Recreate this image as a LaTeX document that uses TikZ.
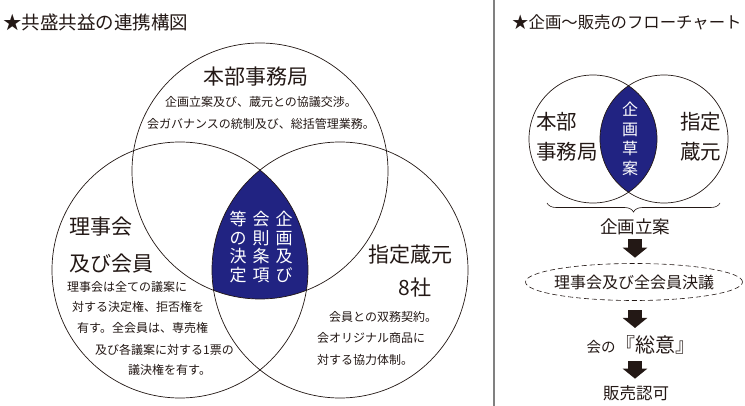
\documentclass[tikz,border=0pt]{standalone}
\usepackage{fontspec}
\setmainfont{Noto Sans CJK JP}
\usetikzlibrary{arrows.meta,shapes.geometric,decorations.pathreplacing}
\definecolor{navy}{RGB}{33,35,130}
\definecolor{ink}{RGB}{35,24,21}
\newcommand{\fsz}[2]{\fontsize{#1}{#2}\selectfont}
\begin{document}
\begin{tikzpicture}[x=1pt,y=-1pt,
  ring/.style={draw=ink,line width=0.7pt,circle,inner sep=0,minimum size=256pt},
  smallring/.style={ring,minimum size=128pt},
  title/.style={text=ink,inner sep=0,anchor=west,font=\fsz{18.5}{20}},
  big/.style={text=ink,inner sep=0,font=\fsz{21}{24}},
  small/.style={text=ink,inner sep=0,anchor=west,font=\fsz{12}{22}},
  vcol/.style={text=white,inner sep=0,align=center,font=\fsz{17}{18.5}},
  flow/.style={text=ink,inner sep=0,font=\fsz{17.5}{20}},
  vote/.style={ellipse,draw=ink,line width=0.6pt,dash pattern=on 5pt off 3pt,
    inner xsep=-4pt,inner ysep=0pt,minimum width=217pt,minimum height=37pt,
    text=ink,font=\fsz{16}{18}},
  bigarrow/.style={draw=ink,line width=14pt,-{Triangle[width=24pt,length=10pt]}}]
  \useasboundingbox (0,0) rectangle (745,406);
  \draw[gray,line width=1.4pt] (494,0) -- (494,406);

  \node[title] (lefttitle) at (3,22) {★共盛共益の連携構図};
  \node[title,font=\fsz{16.4}{20}] (righttitle) at (512,22) {★企画～販売のフローチャート};

  \coordinate (ctop) at (260,171);
  \coordinate (cleft) at (180,270);
  \coordinate (cright) at (340,270);
  \begin{scope}
  \clip (cleft) circle (128pt);
  \clip (cright) circle (128pt);
  \fill[navy] (ctop) circle (128pt);
  \end{scope}
  \node[ring] (top) at (ctop) {};
  \node[ring] (left) at (cleft) {};
  \node[ring] (right) at (cright) {};

  \node[big] (hq) at (256,77) {本部事務局};
  \node[small,anchor=center,align=center] (hqtext) at (261,113) {企画立案及び、蔵元との協議交渉。\\会ガバナンスの統制及び、総括管理業務。};

  \node[big,anchor=west,align=left,font=\fsz{21}{37}] (board) at (69,245) {理事会\\及び会員};
  \node[small] (board1) at (67,287) {理事会は全ての議案に};
  \node[small] (board2) at (72,307) {対する決定権、拒否権を};
  \node[small] (board3) at (77,328) {有す。全会員は、専売権};
  \node[small] (board4) at (95,350) {及び各議案に対する1票の};
  \node[small] (board5) at (128,370) {議決権を有す。};

  \node[big] (brewers) at (410,255) {指定蔵元};
  \node[big] (eight) at (415,288) {8社};
  \node[small] (brew1) at (329,317) {会員との双務契約。};
  \node[small] (brew2) at (317,338) {会オリジナル商品に};
  \node[small] (brew3) at (317,360) {対する協力体制。};

  \node[vcol] (col1) at (284,247) {企\\画\\及\\び};
  \node[vcol] (col2) at (261,247) {会\\則\\条\\項};
  \node[vcol] (col3) at (238,247) {等\\の\\決\\定};

  \coordinate (chq) at (593,139);
  \coordinate (cbrew) at (664,139);
  \begin{scope}
  \clip (chq) circle (64pt);
  \fill[navy] (cbrew) circle (64pt);
  \end{scope}
  \node[smallring] (hqring) at (chq) {};
  \node[smallring] (brewring) at (cbrew) {};
  \node[big,anchor=west,align=left,font=\fsz{20.5}{30}] (hqname) at (536,137) {本部\\事務局};
  \node[big,anchor=west,align=left,font=\fsz{20.5}{30}] (brewname) at (680,137) {指定\\蔵元};
  \node[vcol,font=\fsz{16}{19.5}] (draft) at (630,139) {企\\画\\草\\案};
  \draw[ink,line width=0.6pt,decorate,decoration={brace,amplitude=9pt}] (720,203) -- (547,203);

  \node[flow] (plan) at (635,227) {企画立案};
  \node[vote] (vote) at (634,282) {理事会及び全会員決議};
  \node[flow] (consent) at (641,345) {{\fsz{14.5}{18}会の}{\fsz{20}{24}『総意』}};
  \node[flow,font=\fsz{16.5}{20}] (sale) at (636,393) {販売認可};

  \draw[bigarrow,shorten <=4pt,shorten >=5.5pt] (plan.south) -- (plan.south |- vote.north);
  \draw[bigarrow,shorten <=9.5pt,shorten >=7.5pt] (plan.south |- vote.south) -- (plan.south |- consent.north);
  \draw[bigarrow,shorten <=6.5pt,shorten >=6.5pt] (plan.south |- consent.south) -- (plan.south |- sale.north);
\end{tikzpicture}
\end{document}
